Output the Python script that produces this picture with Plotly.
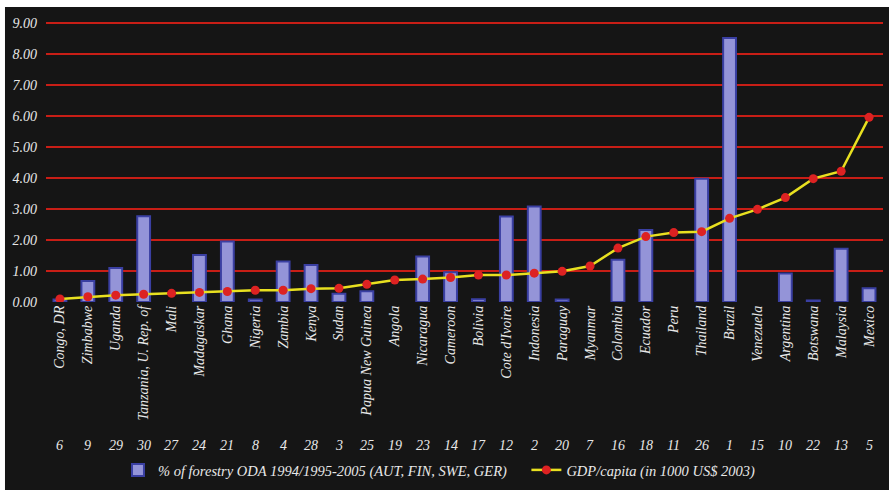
import plotly.graph_objects as go

countries = ["Congo, DR", "Zimbabwe", "Uganda", "Tanzania, U. Rep. of", "Mali", "Madagaskar",
             "Ghana", "Nigeria", "Zambia", "Kenya", "Sudan", "Papua New Guinea", "Angola",
             "Nicaragua", "Cameroon", "Bolivia", "Cote d'Ivoire", "Indonesia", "Paraguay",
             "Myanmar", "Colombia", "Ecuador", "Peru", "Thailand", "Brazil", "Venezuela",
             "Argentina", "Botswana", "Malaysia", "Mexico"]
ranks = [6, 9, 29, 30, 27, 24, 21, 8, 4, 28, 3, 25, 19, 23, 14, 17, 12, 2, 20, 7,
         16, 18, 11, 26, 1, 15, 10, 22, 13, 5]
# None = no bar shown for that country
oda_pct = [0.08, 0.68, 1.10, 2.77, None, 1.52, 1.95, 0.08, 1.31, 1.19, 0.27, 0.35, None,
           1.47, 0.96, 0.09, 2.76, 3.08, 0.08, None, 1.36, 2.32, None, 3.98, 8.52, None,
           0.92, 0.05, 1.72, 0.44]
gdp = [0.10, 0.17, 0.22, 0.25, 0.28, 0.31, 0.34, 0.38, 0.38, 0.43, 0.44, 0.57, 0.71,
       0.74, 0.79, 0.87, 0.87, 0.93, 0.99, 1.16, 1.74, 2.11, 2.24, 2.27, 2.70, 2.99,
       3.37, 3.98, 4.22, 5.96]
yticks = [0, 1, 2, 3, 4, 5, 6, 7, 8, 9]
ytick_text = ["%.2f" % v for v in yticks]

BG = "#151515"
TXT = "#e8e8e8"
FONT = "Liberation Serif"
NB = "\u00a0"

fig = go.Figure()
fig.add_trace(go.Bar(
    x=countries, y=oda_pct, width=0.46,
    name="% of forestry ODA 1994/1995-2005 (AUT, FIN, SWE, GER)" + NB * 4,
    marker=dict(color="#9494d8", line=dict(color="#3a3fa2", width=2)),
))
fig.add_trace(go.Scatter(
    x=countries, y=gdp, mode="lines+markers",
    name="GDP/capita (in 1000 US$ 2003)",
    line=dict(color="#e8e020", width=2.5),
    marker=dict(color="#dd2222", size=9),
))

for c, r in zip(countries, ranks):
    fig.add_annotation(x=c, y=-0.509, xref="x", yref="paper", text=str(r),
                       showarrow=False, yanchor="middle",
                       font=dict(family=FONT, size=14, color=TXT, style="italic"))

# white frame strips (outside the dark panel)
fig.add_shape(type="rect", xref="paper", yref="paper", x0=-0.06, x1=-0.049,
              y0=-0.7, y1=1.1, fillcolor="white", line=dict(width=0), layer="above")
fig.add_shape(type="rect", xref="paper", yref="paper", x0=-0.06, x1=1.01,
              y0=1.046, y1=1.1, fillcolor="white", line=dict(width=0), layer="above")

fig.update_layout(
    width=889, height=490,
    margin=dict(l=46, r=6, t=20, b=187),
    paper_bgcolor=BG, plot_bgcolor=BG,
    font=dict(family=FONT, color=TXT, size=14, style="italic"),
    showlegend=True,
    legend=dict(orientation="h", x=0.086, xanchor="left", y=-0.59, yanchor="middle",
                font=dict(family=FONT, size=14.5, color=TXT, style="italic"),
                bgcolor="rgba(0,0,0,0)", itemwidth=30),
)
fig.update_xaxes(
    tickangle=-90, showgrid=False, zeroline=False, showline=False, ticks="",
    tickfont=dict(family=FONT, size=14, color=TXT, style="italic"),
    range=[-0.5, len(countries) - 0.5],
)
fig.update_yaxes(
    range=[0, 9.1], tickvals=yticks, ticktext=ytick_text,
    showgrid=True, gridcolor="#c81e16", gridwidth=2,
    zeroline=True, zerolinecolor=BG, zerolinewidth=2,
    showline=False, ticks="", ticklabelstandoff=8,
    tickfont=dict(family=FONT, size=14, color=TXT, style="italic"),
)

fig.write_html("out.html")
